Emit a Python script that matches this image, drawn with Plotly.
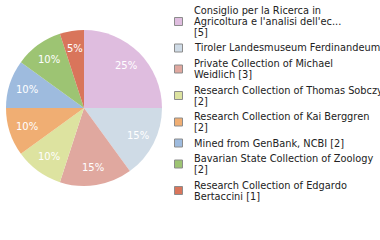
import math
import plotly.graph_objects as go

# ---- data ----
names = [
    "Consiglio per la Ricerca in Agricoltura e l'analisi dell'ec...",
    "Tiroler Landesmuseum Ferdinandeum",
    "Private Collection of Michael Weidlich",
    "Research Collection of Thomas Sobczyk",
    "Research Collection of Kai Berggren",
    "Mined from GenBank, NCBI",
    "Bavarian State Collection of Zoology",
    "Research Collection of Edgardo Bertaccini",
]
counts = [5, 3, 3, 2, 2, 2, 2, 1]
legend_lines = [
    ["Consiglio per la Ricerca in", "Agricoltura e l'analisi dell'ec...", "[5]"],
    ["Tiroler Landesmuseum Ferdinandeum [3]"],
    ["Private Collection of Michael", "Weidlich [3]"],
    ["Research Collection of Thomas Sobczyk", "[2]"],
    ["Research Collection of Kai Berggren", "[2]"],
    ["Mined from GenBank, NCBI [2]"],
    ["Bavarian State Collection of Zoology", "[2]"],
    ["Research Collection of Edgardo", "Bertaccini [1]"],
]
colors = ["#dfbddf", "#cfdbe6", "#e0a89f", "#dde3a0", "#f0ae73", "#9ebbde", "#9dc473", "#d9755b"]

W, H = 380, 240
FONT = "DejaVu Sans"
CX, CY, R = 84.0, 108.0, 78.0  # pie centre / radius in pixels

fig = go.Figure()
fig.add_trace(go.Pie(
    labels=names,
    values=counts,
    sort=False,
    direction="clockwise",
    rotation=0,
    marker=dict(colors=colors, line=dict(width=0)),
    textinfo="none",
    showlegend=False,
    hoverinfo="label+value+percent",
    domain=dict(x=[(CX - R) / W, (CX + R) / W], y=[1 - (CY + R) / H, 1 - (CY - R) / H]),
))

annotations = []
shapes = []

# ---- percentage labels at 0.77 R along each slice's mid angle ----
total = sum(counts)
cum = 0
for v in counts:
    mid = (cum + v / 2) / total * 2 * math.pi
    cum += v
    rr = R * 0.77
    px = CX + rr * math.sin(mid)
    py = CY - rr * math.cos(mid)
    annotations.append(dict(
        x=px / W, y=1 - py / H, xref="paper", yref="paper",
        text=f"{round(100 * v / total)}%", showarrow=False,
        xanchor="center", yanchor="middle",
        font=dict(family=FONT, size=10, color="white"),
    ))

# ---- legend drawn as shapes + annotations ----
line_h = 11.0
gap = 4.5
y = 10.5
text_x = 192
for i, lines in enumerate(legend_lines):
    first = y
    for ln in lines:
        annotations.append(dict(
            x=text_x / W, y=1 - y / H, xref="paper", yref="paper",
            text=ln, showarrow=False, xanchor="left", yanchor="middle",
            font=dict(family=FONT, size=9.8, color="#222222"),
        ))
        y += line_h
    last = y - line_h
    cy = (first + last) / 2
    shapes.append(dict(
        type="rect", xref="paper", yref="paper",
        x0=174.5 / W, x1=182.5 / W, y0=1 - (cy - 4) / H, y1=1 - (cy + 4) / H,
        fillcolor=colors[i], line=dict(color="#8c8c8c", width=1),
    ))
    y = last + line_h + gap

fig.update_layout(
    width=W, height=H,
    margin=dict(l=0, r=0, t=0, b=0),
    paper_bgcolor="white",
    plot_bgcolor="white",
    shapes=shapes,
    annotations=annotations,
    font=dict(family=FONT),
)

fig.write_html("out.html")
